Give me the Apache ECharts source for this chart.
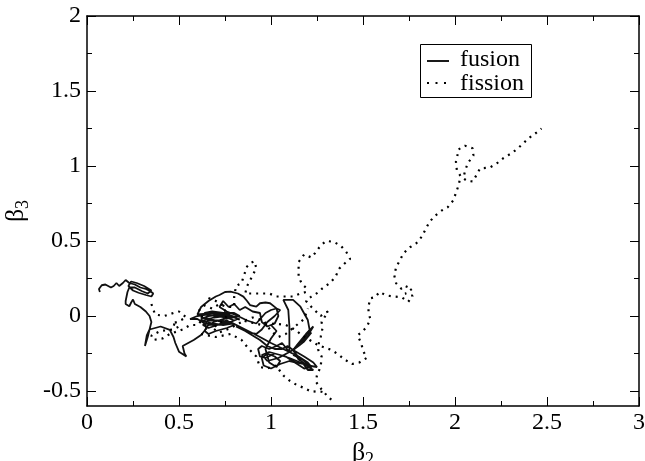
<!DOCTYPE html>
<html>
<head>
<meta charset="utf-8">
<script src="https://cdn.jsdelivr.net/npm/echarts@6/dist/echarts.min.js"></script>
<style>
  html, body { margin: 0; padding: 0; background: #fff; }
  #chart { width: 645px; height: 461px; }
</style>
</head>
<body>
<div id="chart"></div>
<script>
// tick values
var xTicks = [0, 0.5, 1, 1.5, 2, 2.5, 3];
var yMajor = [-0.5, 0, 0.5, 1, 1.5, 2];
var yMinor = [-0.25, 0.25, 0.75, 1.25, 1.75];
var legendNames = ["fusion", "fission"];

// fusion trajectories (beta2, beta3)
var fusion1 = [
  [0.07, 0.16], [0.065, 0.18], [0.08, 0.205], [0.1, 0.21], [0.11, 0.2], [0.13, 0.19], [0.145, 0.2],
  [0.16, 0.22], [0.175, 0.2], [0.185, 0.19], [0.195, 0.22], [0.21, 0.24], [0.22, 0.25], [0.23, 0.22],
  [0.26, 0.21], [0.29, 0.19], [0.32, 0.18], [0.345, 0.165], [0.36, 0.15], [0.35, 0.13], [0.32, 0.14],
  [0.28, 0.155], [0.25, 0.17], [0.225, 0.2], [0.24, 0.23], [0.27, 0.22], [0.31, 0.2], [0.35, 0.17],
  [0.33, 0.15], [0.3, 0.165], [0.26, 0.19], [0.23, 0.19], [0.22, 0.16], [0.215, 0.13], [0.21, 0.1],
  [0.21, 0.08], [0.23, 0.065], [0.24, 0.09], [0.25, 0.11], [0.26, 0.08], [0.29, 0.06], [0.32, 0.03],
  [0.34, 0.0], [0.35, -0.04], [0.34, -0.09], [0.33, -0.14], [0.315, -0.2], [0.325, -0.13], [0.34, -0.09],
  [0.37, -0.08], [0.4, -0.07], [0.45, -0.093], [0.47, -0.14], [0.48, -0.18], [0.5, -0.238],
  [0.54, -0.27], [0.53, -0.25], [0.52, -0.2], [0.55, -0.18], [0.58, -0.16], [0.62, -0.127],
  [0.65, -0.082], [0.64, -0.05]
];
var fusion2 = [
  [0.64, -0.05], [0.6, -0.02], [0.56, -0.02], [0.6, 0.0], [0.65, 0.01], [0.7, 0.0], [0.76, -0.01],
  [0.8, -0.03], [0.76, -0.05], [0.7, -0.06], [0.64, -0.05], [0.62, -0.02], [0.66, 0.0], [0.72, 0.01],
  [0.78, 0.0], [0.82, -0.02], [0.78, -0.04], [0.72, -0.03], [0.66, -0.03], [0.63, -0.06], [0.66, -0.08],
  [0.71, -0.06], [0.76, -0.03], [0.8, -0.06], [0.76, -0.08], [0.7, -0.1], [0.66, -0.12], [0.64, -0.1],
  [0.65, -0.07], [0.69, -0.04], [0.74, -0.02], [0.79, -0.01], [0.83, 0.0], [0.8, 0.02], [0.74, 0.02],
  [0.68, 0.03], [0.64, 0.02], [0.62, -0.01], [0.67, -0.02], [0.73, -0.04], [0.79, -0.05], [0.74, -0.06],
  [0.68, -0.05], [0.63, -0.03], [0.69, -0.01], [0.75, 0.0], [0.81, -0.01], [0.77, 0.01], [0.7, 0.02],
  [0.6, 0.01], [0.62, 0.06], [0.66, 0.1], [0.7, 0.13], [0.72, 0.14],
  [0.75, 0.16], [0.78, 0.162], [0.82, 0.15], [0.85, 0.129], [0.87, 0.1], [0.886, 0.073], [0.92, 0.062],
  [0.94, 0.085], [0.97, 0.09], [0.995, 0.085], [1.03, 0.051], [1.04, 0.0], [1.02, -0.05], [0.98, -0.07],
  [0.95, -0.04], [0.94, 0.02], [0.9, 0.03], [0.86, 0.06], [0.83, 0.04], [0.8, 0.08], [0.77, 0.06],
  [0.74, 0.1], [0.72, 0.06], [0.76, 0.03], [0.82, 0.0], [0.87, -0.03], [0.92, -0.05], [0.97, 0.02],
  [1.0, 0.04], [1.03, 0.05], [1.05, 0.04], [1.02, 0.0], [0.98, -0.04], [0.95, -0.09], [0.92, -0.12],
  [0.88, -0.11], [0.84, -0.08], [0.78, -0.04], [0.86, -0.09], [0.94, -0.14], [1.0, -0.18], [1.05, -0.21],
  [1.1, -0.24], [1.15, -0.27], [1.2, -0.31], [1.22, -0.34], [1.18, -0.35], [1.13, -0.31], [1.08, -0.27],
  [1.02, -0.25], [0.97, -0.28], [0.94, -0.27], [0.93, -0.22], [0.95, -0.2], [0.99, -0.22], [1.03, -0.2],
  [1.06, -0.18], [1.1, -0.24], [1.1, -0.16], [1.1, -0.07], [1.094, 0.04], [1.067, 0.107], [1.12, 0.107],
  [1.16, 0.062], [1.2, -0.027], [1.21, -0.093], [1.18, -0.15], [1.14, -0.2], [1.12, -0.227], [1.04, -0.28],
  [0.98, -0.3], [0.95, -0.26], [0.99, -0.24], [1.05, -0.26], [1.1, -0.28], [1.16, -0.31], [1.21, -0.33],
  [1.17, -0.29], [1.12, -0.26]
];
var fusion3 = [
  [0.81, -0.07], [0.86, -0.1], [0.9, -0.13], [0.94, -0.16], [0.98, -0.2], [1.02, -0.22], [1.06, -0.22],
  [1.09, -0.2], [1.12, -0.227], [1.15, -0.18], [1.19, -0.12], [1.23, -0.07], [1.2, -0.13], [1.16, -0.19],
  [1.12, -0.227], [1.18, -0.17], [1.22, -0.11], [1.17, -0.18], [1.12, -0.227], [1.18, -0.27], [1.23, -0.31],
  [1.25, -0.34], [1.2, -0.33], [1.15, -0.29], [1.12, -0.227], [1.2, -0.36], [1.23, -0.36], [1.18, -0.32],
  [1.1, -0.3], [1.05, -0.32], [1.0, -0.35], [0.96, -0.33], [0.95, -0.28], [0.98, -0.25], [1.02, -0.27],
  [1.05, -0.3], [1.03, -0.34], [0.99, -0.31], [0.97, -0.22], [1.0, -0.15], [1.03, -0.1], [1.0, -0.06]
];

// fission trajectories (beta2, beta3)
var fission1 = [
  [0.35, 0.08], [0.37, 0.01], [0.42, 0.0], [0.47, 0.02], [0.5, 0.03], [0.54, -0.01], [0.49, -0.04],
  [0.46, -0.05], [0.5, -0.07], [0.47, -0.09], [0.4, -0.1], [0.35, -0.13], [0.36, -0.16], [0.41, -0.15],
  [0.45, -0.12], [0.52, -0.09], [0.56, -0.06], [0.6, -0.06], [0.63, -0.02], [0.61, 0.04], [0.64, 0.07],
  [0.68, 0.05], [0.72, 0.08], [0.76, 0.06], [0.8, 0.06], [0.8, 0.13], [0.81, 0.2], [0.84, 0.22],
  [0.85, 0.26], [0.87, 0.33], [0.89, 0.355], [0.91, 0.365], [0.92, 0.32], [0.9, 0.27], [0.87, 0.2],
  [0.86, 0.15], [0.9, 0.15], [0.95, 0.15], [0.99, 0.15], [1.03, 0.13], [1.08, 0.13], [1.12, 0.13],
  [1.16, 0.15], [1.19, 0.16], [1.19, 0.19], [1.17, 0.21], [1.15, 0.26], [1.15, 0.31], [1.15, 0.36],
  [1.18, 0.41], [1.22, 0.39], [1.24, 0.42], [1.27, 0.47], [1.3, 0.5], [1.34, 0.495], [1.38, 0.467],
  [1.41, 0.425], [1.43, 0.38], [1.4, 0.35], [1.37, 0.315], [1.35, 0.26], [1.32, 0.22], [1.28, 0.185],
  [1.26, 0.16], [1.22, 0.13], [1.19, 0.1], [1.22, 0.06], [1.27, 0.0], [1.29, 0.02], [1.31, 0.03],
  [1.275, -0.04], [1.28, -0.08], [1.27, -0.14], [1.26, -0.18], [1.257, -0.227], [1.275, -0.27],
  [1.27, -0.34], [1.25, -0.39], [1.245, -0.44], [1.275, -0.49], [1.29, -0.51], [1.31, -0.54], [1.34, -0.57]
];
var fission2 = [
  [0.62, -0.12], [0.7, -0.14], [0.78, -0.12], [0.84, -0.16], [0.88, -0.22], [0.92, -0.27], [0.94, -0.34],
  [0.98, -0.35], [1.0, -0.34], [1.03, -0.33], [1.05, -0.37], [1.07, -0.4], [1.1, -0.43], [1.14, -0.46],
  [1.18, -0.48], [1.22, -0.505], [1.26, -0.5], [1.29, -0.51]
];
var fission3 = [
  [0.82, -0.02], [0.88, -0.04], [0.95, -0.06], [1.02, -0.05], [1.08, -0.06], [1.13, -0.09], [1.17, -0.13],
  [1.21, -0.16], [1.25, -0.19], [1.29, -0.21], [1.33, -0.227], [1.37, -0.26], [1.4, -0.29], [1.44, -0.32],
  [1.48, -0.31], [1.52, -0.28], [1.5, -0.23], [1.49, -0.18], [1.47, -0.13], [1.49, -0.11], [1.52, -0.075],
  [1.54, -0.02], [1.53, 0.02], [1.53, 0.067], [1.54, 0.118], [1.565, 0.125], [1.59, 0.16], [1.625, 0.138],
  [1.665, 0.13], [1.71, 0.125], [1.746, 0.095], [1.77, 0.135], [1.73, 0.15], [1.766, 0.18], [1.73, 0.2],
  [1.71, 0.18], [1.68, 0.218], [1.67, 0.27], [1.68, 0.325], [1.7, 0.37], [1.72, 0.418], [1.755, 0.458],
  [1.79, 0.485], [1.82, 0.53], [1.84, 0.578], [1.86, 0.625], [1.89, 0.667], [1.93, 0.705], [1.96, 0.725],
  [1.99, 0.77], [2.005, 0.82], [2.02, 0.873], [2.03, 0.933], [2.01, 0.973], [2.005, 1.03], [2.015, 1.08],
  [2.018, 1.11], [2.054, 1.135], [2.096, 1.118], [2.1, 1.07], [2.07, 1.02], [2.056, 0.973], [2.045, 0.918],
  [2.067, 0.9], [2.096, 0.897], [2.117, 0.94], [2.136, 0.984], [2.19, 0.99], [2.23, 1.02], [2.26, 1.05],
  [2.3, 1.08], [2.335, 1.11], [2.37, 1.15], [2.4, 1.185], [2.44, 1.22], [2.47, 1.25]
];
var fission4 = [
  [0.66, 0.12], [0.7, 0.1], [0.74, 0.07], [0.76, 0.0], [0.72, -0.05], [0.68, -0.08], [0.72, -0.11],
  [0.78, -0.08], [0.84, -0.04], [0.9, -0.01], [0.96, -0.03], [1.0, -0.1], [1.04, -0.14], [1.08, -0.12],
  [1.14, -0.06], [1.18, -0.02], [1.2, 0.05]
];

var serif = "'Liberation Serif', 'Times New Roman', serif";

function xAxisCfg(pos, showLabel) {
  return {
    type: "value", position: pos, min: 0, max: 3, interval: 0.5,
    axisLine: { show: true, onZero: false, lineStyle: { color: "#000", width: 1.5 } },
    axisTick: { show: true, inside: true, length: 9, lineStyle: { color: "#000", width: 1 } },
    minorTick: { show: true, splitNumber: 2, length: 5, lineStyle: { color: "#000", width: 1 } },
    axisLabel: {
      show: showLabel, color: "#000", fontFamily: serif, fontSize: 24, margin: 5,
      formatter: function (v) { return xTicks.indexOf(v) >= 0 ? String(v) : ""; }
    },
    splitLine: { show: false }
  };
}

function yAxisCfg(pos, ticks, len, showLabel, showLine) {
  return {
    type: "value", position: pos, min: -0.6, max: 2, offset: 0,
    axisLine: { show: showLine, onZero: false, lineStyle: { color: "#000", width: 1.5 } },
    axisTick: { show: true, inside: true, length: len, customValues: ticks, lineStyle: { color: "#000", width: 1 } },
    axisLabel: { show: showLabel, customValues: ticks, color: "#000", fontFamily: serif, fontSize: 24, margin: 6 },
    splitLine: { show: false }
  };
}

function lineSeries(name, data, dotted) {
  return {
    name: name, type: "line", data: data, symbol: "none", smooth: false,
    xAxisIndex: 0, yAxisIndex: 0, animation: false,
    lineStyle: dotted
      ? { color: "#000", width: 2.2, type: [2, 5] }
      : { color: "#111", width: 1.8, type: "solid" }
  };
}

function init_chart(container) {
  var myChart = echarts.init(document.getElementById(container), null, { renderer: "canvas" });

  var subRich = {
    b: { fontFamily: serif, fontSize: 26, color: "#000" },
    s: { fontFamily: serif, fontSize: 18, color: "#000", padding: [14, 0, 0, 0] }
  };

  var xName = xAxisCfg("bottom", true);
  xName.name = "{b|β}{s|2}";
  xName.nameLocation = "middle";
  xName.nameGap = 22;
  xName.nameTextStyle = { rich: subRich };

  var yName = yAxisCfg("left", yMajor, 9, true, true);
  yName.name = "{b|β}{s|3}";
  yName.nameLocation = "middle";
  yName.nameGap = 54;
  yName.nameTextStyle = { rich: subRich };

  var option = {
    backgroundColor: "#fff",
    animation: false,
    grid: { left: 87, right: 6, top: 16, bottom: 55, outerBoundsMode: "none", containLabel: false },
    xAxis: [xName, xAxisCfg("top", false)],
    yAxis: [
      yName,
      yAxisCfg("left", yMinor, 5, false, false),
      yAxisCfg("right", yMajor, 9, false, true),
      yAxisCfg("right", yMinor, 5, false, false)
    ],
    // legend box drawn by hand, like the xmgrace one
    graphic: [
      { type: "rect", left: 420, top: 44, shape: { width: 111, height: 53 },
        style: { fill: "#fff", stroke: "#000", lineWidth: 1 }, z: 10 },
      { type: "line", shape: { x1: 427, y1: 61, x2: 449, y2: 61 },
        style: { stroke: "#000", lineWidth: 1.8 }, z: 11 },
      { type: "line", shape: { x1: 427, y1: 83, x2: 449, y2: 83 },
        style: { stroke: "#000", lineWidth: 2.2, lineDash: [2, 6.5] }, z: 11 },
      { type: "text", x: 460, y: 60, style: { text: legendNames[0], fill: "#000",
        font: "24px " + serif, verticalAlign: "middle" }, z: 11 },
      { type: "text", x: 460, y: 84, style: { text: legendNames[1], fill: "#000",
        font: "24px " + serif, verticalAlign: "middle" }, z: 11 }
    ],
    series: [
      lineSeries(legendNames[0], fusion1, false),
      lineSeries(legendNames[0], fusion2, false),
      lineSeries(legendNames[0], fusion3, false),
      lineSeries(legendNames[1], fission1, true),
      lineSeries(legendNames[1], fission2, true),
      lineSeries(legendNames[1], fission3, true),
      lineSeries(legendNames[1], fission4, true)
    ]
  };

  myChart.setOption(option);
}

init_chart("chart");
</script>
</body>
</html>
